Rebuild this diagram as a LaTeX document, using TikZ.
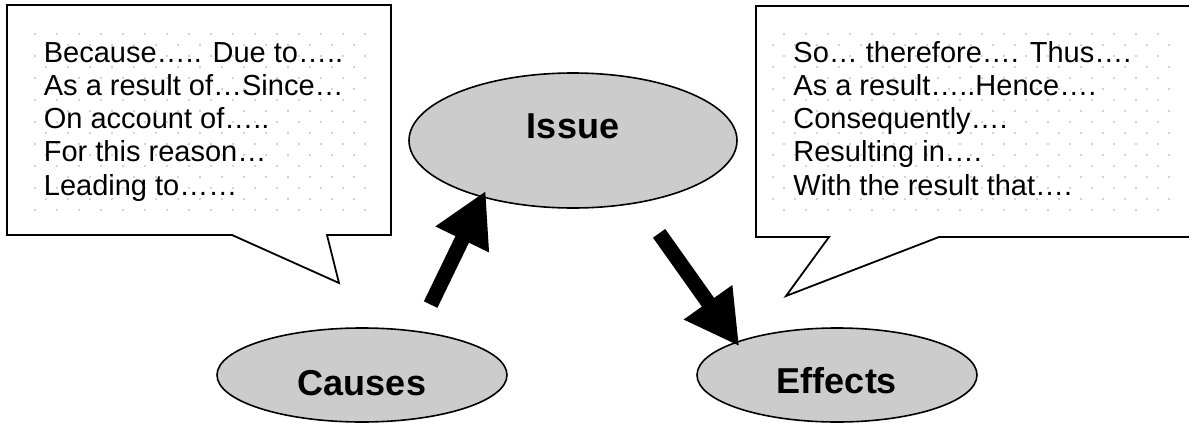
\documentclass[tikz,border=0pt]{standalone}
\usepackage{fontspec}
\setmainfont{Liberation Sans}
\usetikzlibrary{arrows.meta, shapes.geometric}
\definecolor{bubblegray}{HTML}{CCCCCC}
\definecolor{dotgray}{HTML}{D4D4D4}
\tikzset{
  bubble/.style={ellipse, draw=black, line width=0.8pt, fill=bubblegray,
                 inner sep=0pt, outer sep=0pt, text depth=0pt,
                 font=\fontsize{18}{20}\selectfont\bfseries},
  callout/.style={draw=black, line width=0.9pt, fill=white, line join=miter},
  phrases/.style={anchor=base west, align=left, inner sep=0pt,
                  font=\fontsize{14.5}{16.65}\selectfont},
  bigflow/.style={-{Triangle[length=27pt, width=27.75pt]}, line width=7.5pt, draw=black},
}

\begin{document}
\begin{tikzpicture}[x=0.5pt, y=-0.5pt]
  \useasboundingbox (0,0) rectangle (1189,423);
  \clip (0,0) rectangle (1189,423);
  % speech boxes with their tails
  \draw[callout] (7,5) -- (391,5) -- (391,235) -- (327,235) -- (339,283) -- (232,235) -- (7,235) -- cycle;
  \draw[callout] (756,6) -- (1200,6) -- (1200,237) -- (939,237) -- (786,296) -- (829,237) -- (756,237) -- cycle;
  % dotted backing of the boxes
  \foreach \y in {34,56,...,210}{ \foreach \x in {35,57,...,365} \fill[dotgray] (\x-1,\y-1) rectangle ++(2,2); }
  \foreach \y in {45,67,...,199}{ \foreach \x in {46,68,...,354} \fill[dotgray] (\x-1,\y-1) rectangle ++(2,2); }
  \foreach \y in {34,56,...,210}{ \foreach \x in {784,806,...,1158} \fill[dotgray] (\x-1,\y-1) rectangle ++(2,2); }
  \foreach \y in {45,67,...,199}{ \foreach \x in {773,795,...,1169} \fill[dotgray] (\x-1,\y-1) rectangle ++(2,2); }

  % base anchor sits on the last line
  \node[phrases] (causelist) at (43.5,195.2) {Because….. Due to…..\\As a result of…Since…\\On account of…..\\For this reason…\\Leading to……};
  \node[phrases] (effectlist) at (793,195.2) {So… therefore…. Thus….\\As a result…..Hence….\\Consequently….\\Resulting in….\\With the result that….};

  \node[bubble, minimum width=164pt, minimum height=67.5pt, text height=13pt, text depth=14.7pt] (issue) at (573,140.5) {Issue};
  \node[bubble, minimum width=145pt, minimum height=47pt, text height=20.4pt] (causes) at (362,375) {Causes};
  \node[bubble, minimum width=140pt, minimum height=47pt, text height=18.4pt] (effects) at (837,375) {Effects};

  \draw[bigflow, shorten <=15pt, shorten >=-3.35pt] (causes.38.6) -- (issue.212.6);
  \draw[bigflow, shorten <=18.85pt, shorten >=-2.45pt] (issue.316.8) -- (effects.162.7);
\end{tikzpicture}
\end{document}
